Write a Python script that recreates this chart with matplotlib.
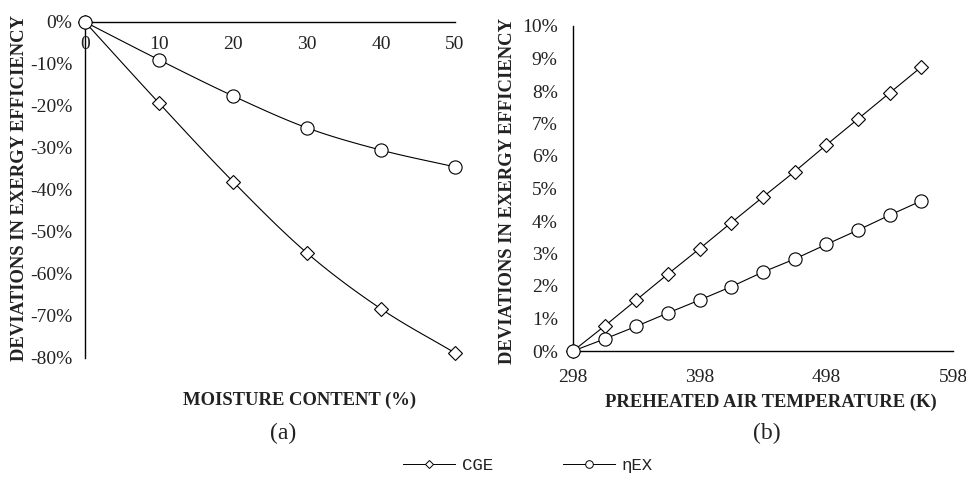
import numpy as np
import matplotlib
matplotlib.use("Agg")
import matplotlib.pyplot as plt
from matplotlib.ticker import FuncFormatter
from matplotlib.lines import Line2D

# (a) moisture content
moisture = [0, 10, 20, 30, 40, 50]
cge_a = [0, -19.3, -38.0, -55.0, -68.3, -78.8]
nex_a = [0, -9.0, -17.6, -25.2, -30.5, -34.5]

# (b) preheated air temperature
temp = [298, 323, 348, 373, 398, 423, 448, 473, 498, 523, 548, 573]
cge_b = [0, 0.77, 1.57, 2.37, 3.15, 3.95, 4.74, 5.52, 6.34, 7.14, 7.94, 8.74]
nex_b = [0, 0.37, 0.76, 1.17, 1.57, 1.98, 2.43, 2.83, 3.28, 3.72, 4.18, 4.62]

plt.rcParams["font.family"] = ["Liberation Serif", "DejaVu Serif"]
plt.rcParams["text.color"] = "#222222"
plt.rcParams["xtick.color"] = "#222222"
plt.rcParams["ytick.color"] = "#222222"


def smooth(x, y, n=20):
    # catmull-rom curve through the points (like excel smoothed lines)
    x = np.asarray(x, float)
    y = np.asarray(y, float)
    px = np.concatenate([[2 * x[0] - x[1]], x, [2 * x[-1] - x[-2]]])
    py = np.concatenate([[2 * y[0] - y[1]], y, [2 * y[-1] - y[-2]]])
    xs, ys = [], []
    t = np.linspace(0, 1, n)
    for i in range(1, len(px) - 2):
        for p, out in ((px, xs), (py, ys)):
            p0, p1, p2, p3 = p[i - 1], p[i], p[i + 1], p[i + 2]
            out.extend(0.5 * (2 * p1 + (-p0 + p2) * t
                              + (2 * p0 - 5 * p1 + 4 * p2 - p3) * t ** 2
                              + (-p0 + 3 * p1 - 3 * p2 + p3) * t ** 3))
    return xs, ys


fig = plt.figure(figsize=(9.66, 4.79), dpi=100)

pct = FuncFormatter(lambda v, p: "%d%%" % round(v))
mk = dict(color="black", mfc="white", mec="black", lw=0.8, mew=0.8, clip_on=False, zorder=3)
D_MS, O_MS = 7, 9.5

# ---- panel (a)
ax1 = fig.add_axes([85 / 966, 1 - 358 / 479, 370 / 966, 336 / 479])
for y, m, ms in ((cge_a, "D", D_MS), (nex_a, "o", O_MS)):
    sx, sy = smooth(moisture, y)
    ax1.plot(sx, sy, color="black", lw=0.8, clip_on=False, zorder=2)
    ax1.plot(moisture, y, ls="none", marker=m, ms=ms, **mk)
ax1.set_xlim(0, 50)
ax1.set_ylim(-80, 0)
ax1.set_xticks(moisture)
ax1.set_yticks(np.arange(-80, 1, 10))
ax1.yaxis.set_major_formatter(pct)
ax1.spines["bottom"].set_position(("data", 0))
ax1.tick_params(axis="x", length=0, pad=10)
ax1.tick_params(axis="y", length=0, pad=9)

# ---- panel (b)
ax2 = fig.add_axes([573 / 966, 1 - 351 / 479, 380 / 966, 325 / 479])
ax2.plot(temp, cge_b, marker="D", ms=D_MS, **mk)
ax2.plot(temp, nex_b, marker="o", ms=O_MS, **mk)
ax2.set_xlim(298, 598)
ax2.set_ylim(0, 10)
ax2.set_xticks([298, 398, 498, 598])
ax2.set_yticks(range(0, 11))
ax2.yaxis.set_major_formatter(pct)
ax2.tick_params(axis="x", length=0, pad=13)
ax2.tick_params(axis="y", length=0, pad=11)

for ax in (ax1, ax2):
    ax.spines["top"].set_visible(False)
    ax.spines["right"].set_visible(False)
    ax.spines["left"].set_linewidth(1.0)
    ax.spines["bottom"].set_linewidth(1.0)
    ax.tick_params(labelsize=14)
    ax.set_facecolor("none")

lab_kw = dict(fontweight="bold", fontsize=13.4)
fig.text(20 / 966, 1 - 188 / 479, "DEVIATIONS IN EXERGY EFFICIENCY", rotation=90,
         ha="center", va="center", **lab_kw)
fig.text(508 / 966, 1 - 191 / 479, "DEVIATIONS IN EXERGY EFFICIENCY", rotation=90,
         ha="center", va="center", **lab_kw)
fig.text(300 / 966, 1 - 400 / 479, "MOISTURE CONTENT (%)", ha="center", va="center", **lab_kw)
fig.text(771 / 966, 1 - 402 / 479, "PREHEATED AIR TEMPERATURE (K)", ha="center", va="center",
         **lab_kw)
fig.text(283 / 966, 1 - 433 / 479, "(a)", ha="center", va="center", fontsize=17)
fig.text(767 / 966, 1 - 433 / 479, "(b)", ha="center", va="center", fontsize=17)

handles = [Line2D([], [], color="black", lw=0.7, marker="D", ms=4.5, mfc="white", mew=0.7),
           Line2D([], [], color="black", lw=0.7, marker="o", ms=5.5, mfc="white", mew=0.7)]
fig.legend(handles, ["CGE", "ηEX"], loc="center", bbox_to_anchor=(528 / 966, 1 - 465 / 479),
           ncol=2, frameon=False, handlelength=3.0, columnspacing=4.0, handletextpad=0.4,
           prop={"family": "Liberation Mono", "size": 12.5})

fig.savefig("out.png", dpi=100)
